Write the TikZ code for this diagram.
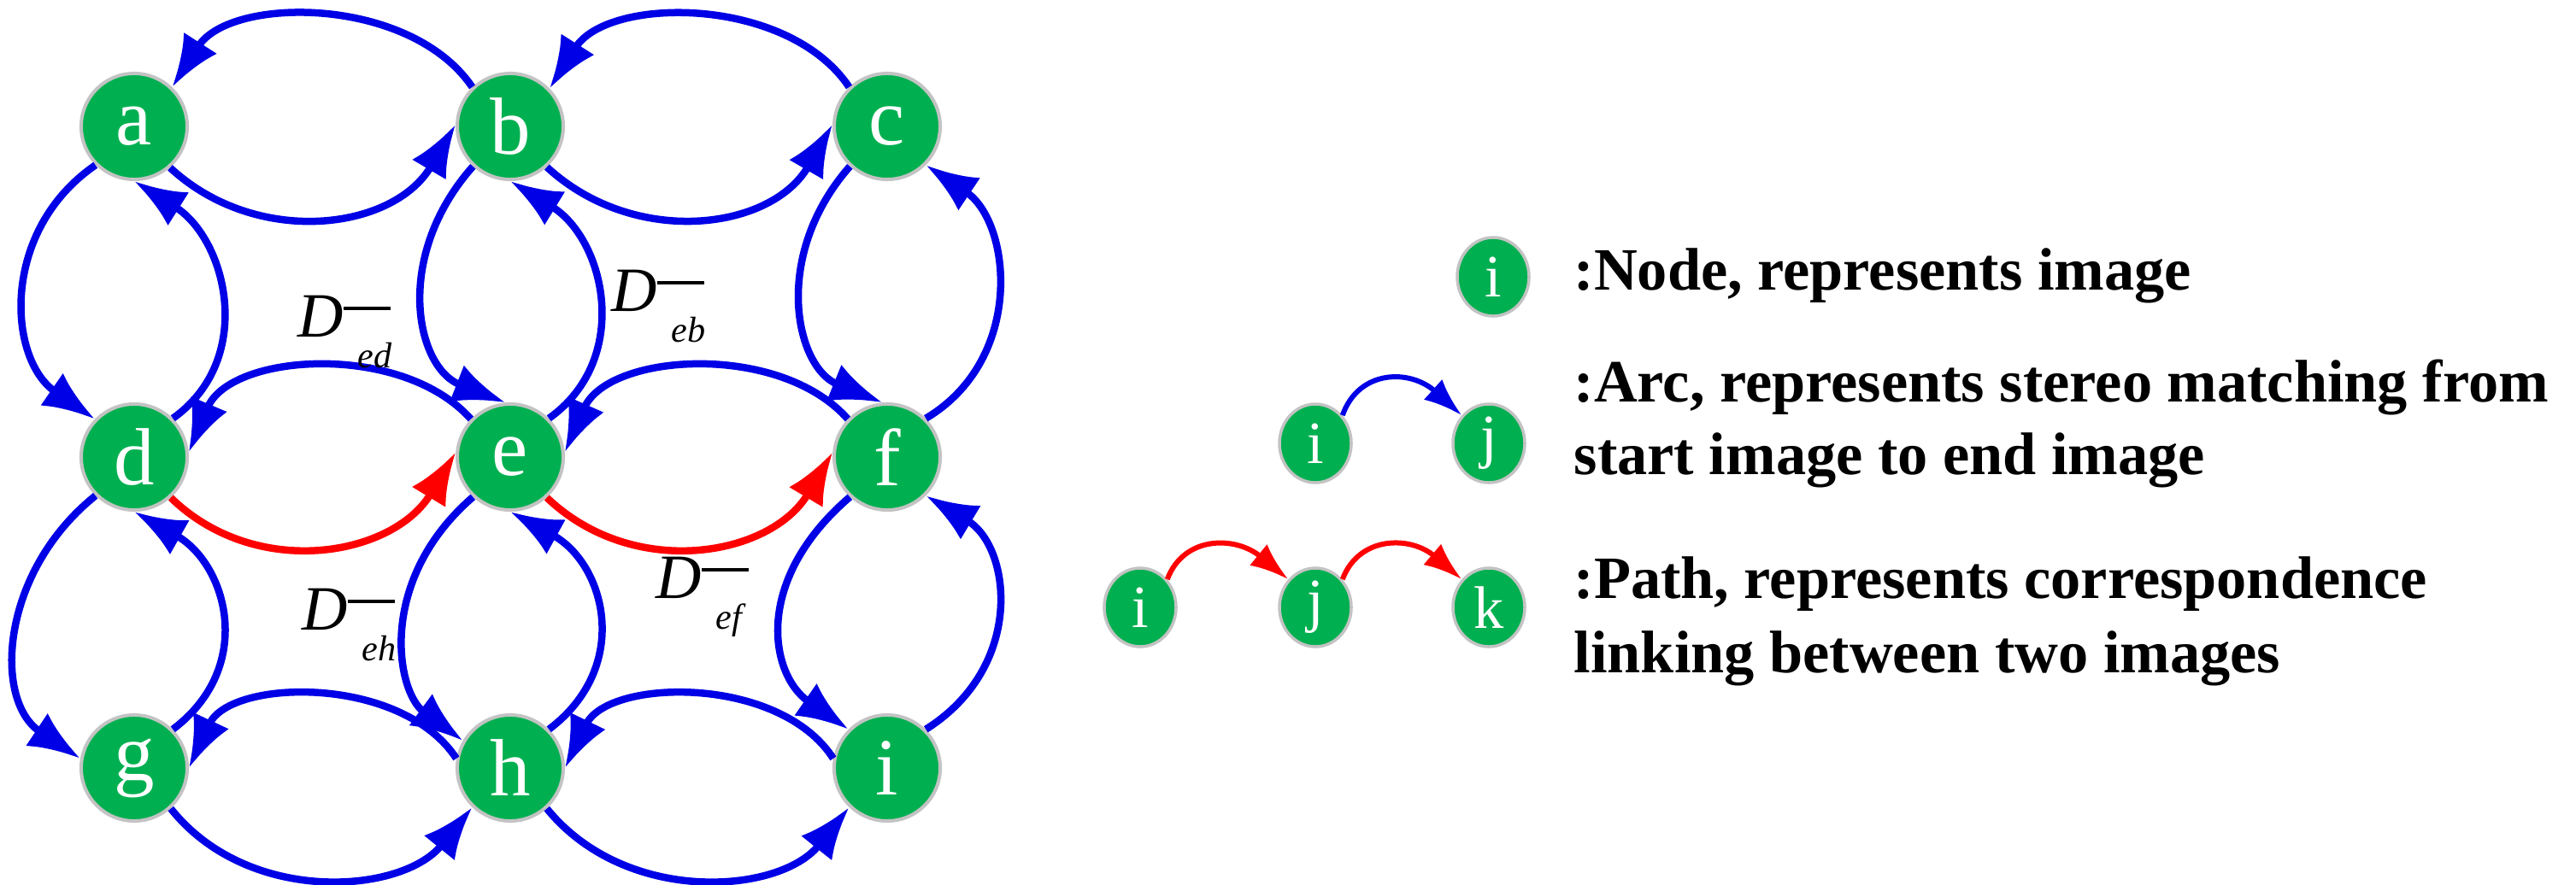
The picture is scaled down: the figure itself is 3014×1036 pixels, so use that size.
\documentclass[tikz,border=0pt]{standalone}
\usepackage{fontspec}
\setmainfont{Liberation Serif}
\usetikzlibrary{arrows.meta,shapes.geometric}
\definecolor{ngreen}{RGB}{0,176,80}
\definecolor{nborder}{RGB}{195,195,195}
\definecolor{ablue}{RGB}{0,0,230}
\definecolor{ared}{RGB}{255,0,0}
\newcommand{\Dlab}[1]{\textit{D}\rlap{\raisebox{0.42em}{\rule{0.75em}{0.05em}}}\hspace{0.22em}\raisebox{-0.5em}{\fontsize{12}{12}\selectfont\textit{#1}}}
\begin{document}
\begin{tikzpicture}[x=0.01cm,y=-0.01cm,
  gn/.style={circle,fill=ngreen,draw=nborder,line width=0.04cm,minimum size=1.24cm,inner sep=0pt,text=white,font=\fontsize{27}{27}\selectfont},
  ln/.style={ellipse,fill=ngreen,draw=nborder,line width=0.035cm,minimum width=0.84cm,minimum height=0.92cm,inner sep=0pt,text=white,font=\fontsize{20}{20}\selectfont},
  arc/.style={draw=ablue,line width=0.085cm,-{Latex[length=0.61cm,width=0.46cm]}},
  rarc/.style={arc,draw=ared},
  larc/.style={draw=ablue,line width=0.06cm,-{Latex[length=0.45cm,width=0.32cm]}},
  lrarc/.style={larc,draw=ared},
  dl/.style={anchor=base west,inner sep=0pt,font=\fontsize{21}{21}\selectfont},
  lt/.style={anchor=base west,inner sep=0pt,font=\fontsize{20}{20}\selectfont\bfseries}]
\useasboundingbox (0,0) rectangle (3014,1036);
\node[gn] (a) at (157,148) {a};
\node[gn] (b) at (597,148) {b};
\node[gn] (c) at (1038,148) {c};
\node[gn] (d) at (157,535) {d};
\node[gn] (e) at (597,535) {e};
\node[gn] (f) at (1038,535) {f};
\node[gn] (g) at (157,899) {g};
\node[gn] (h) at (597,899) {h};
\node[gn] (i) at (1038,899) {i};
% row 1
\draw[arc] (b.134) .. controls (480,-5) and (270,-5) .. (a.46);
\draw[arc] (c.134) .. controls (922,-5) and (712,-5) .. (b.44);
\draw[arc] (a.-49) .. controls (300,290) and (460,270) .. (b.178);
\draw[arc] (b.-48) .. controls (742,290) and (902,270) .. (c.178);
% row 2
\draw[arc] (e.136) .. controls (470,400) and (270,413) .. (d.5);
\draw[arc] (f.136) .. controls (912,400) and (712,413) .. (e.5);
\draw[rarc] (d.-48) .. controls (300,680) and (460,651) .. (e.175);
\draw[rarc] (e.-48) .. controls (742,680) and (902,651) .. (f.175);
% row 3
\draw[arc] (h.170) .. controls (470,790) and (270,794) .. (g.0);
\draw[arc] (i.170) .. controls (912,790) and (712,794) .. (h.0);
\draw[arc] (g.-48) .. controls (290,1060) and (470,1047) .. (h.-134);
\draw[arc] (h.-48) .. controls (732,1060) and (912,1047) .. (i.-134);
% verticals 1-2
\draw[arc] (a.-135) .. controls (0,270) and (9,420) .. (d.136);
\draw[arc] (d.45) .. controls (300,420) and (265,280) .. (a.-90);
\draw[arc] (b.-133) .. controls (460,300) and (486,430) .. (e.95);
\draw[arc] (e.45) .. controls (740,420) and (708,280) .. (b.-90);
\draw[arc] (c.-133) .. controls (902,300) and (931,430) .. (f.95);
\draw[arc] (f.45) .. controls (1200,420) and (1183,260) .. (c.-45);
% verticals 2-3
\draw[arc] (d.-135) .. controls (0,670) and (-8,820) .. (g.170);
\draw[arc] (g.45) .. controls (300,780) and (265,660) .. (d.-90);
\draw[arc] (e.-133) .. controls (440,680) and (464,810) .. (h.150);
\draw[arc] (h.45) .. controls (740,780) and (708,660) .. (e.-90);
\draw[arc] (f.-133) .. controls (880,680) and (901,790) .. (i.135);
\draw[arc] (i.45) .. controls (1200,780) and (1183,640) .. (f.-45);
% D labels
\node[dl] (ded) at (348,394) {\Dlab{ed}};
\node[dl] (deb) at (715,364) {\Dlab{eb}};
\node[dl] (deh) at (353,737) {\Dlab{eh}};
\node[dl] (def) at (767,700) {\Dlab{ef}};
% legend
\node[ln] (n0) at (1747,324) {i};
\node[lt] (t1) at (1841,339) {:Node, represents image};
\node[ln] (ai) at (1539,519) {i};
\node[ln] (aj) at (1742,519) {j};
\draw[larc] (ai.46) .. controls (1590,432) and (1650,432) .. (aj.134);
\node[lt] (t2) at (1841,470) {:Arc, represents stereo matching from};
\node[lt] (t3) at (1841,555) {start image to end image};
\node[ln] (pi) at (1334,711) {i};
\node[ln] (pj) at (1539,711) {j};
\node[ln] (pk) at (1742,711) {k};
\draw[lrarc] (pi.46) .. controls (1385,627) and (1445,627) .. (pj.134);
\draw[lrarc] (pj.46) .. controls (1590,627) and (1650,627) .. (pk.134);
\node[lt] (t4) at (1841,700) {:Path, represents correspondence};
\node[lt] (t5) at (1841,787) {linking between two images};
\end{tikzpicture}
\end{document}
